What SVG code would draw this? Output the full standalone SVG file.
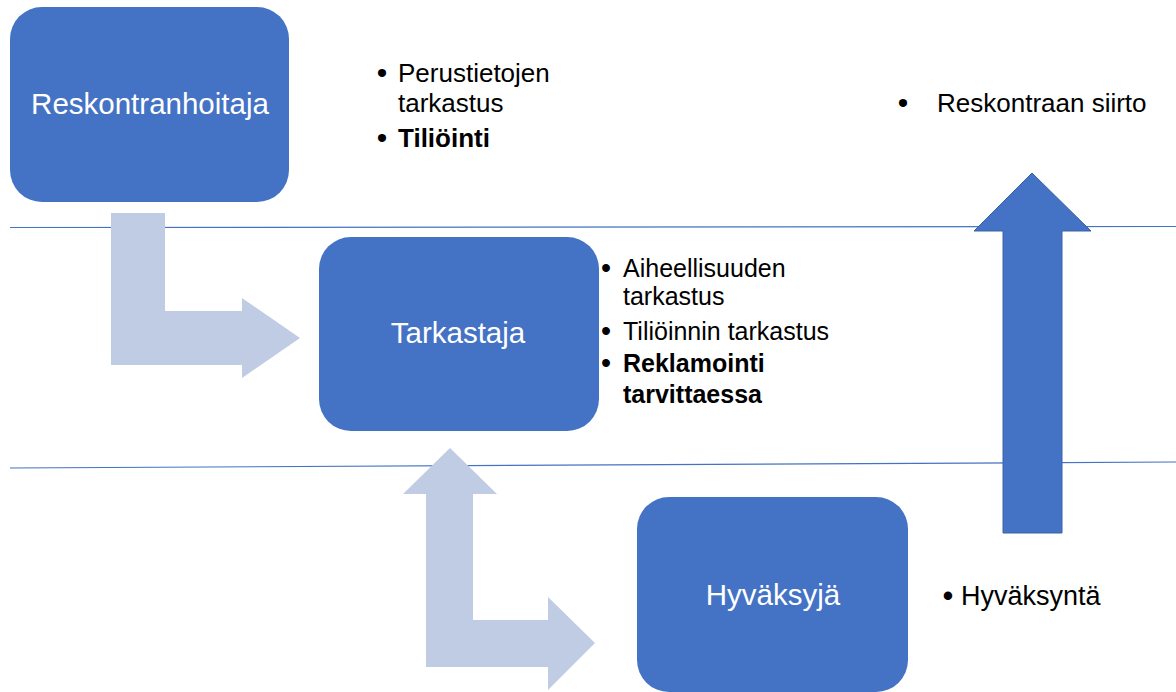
<svg xmlns="http://www.w3.org/2000/svg" width="1176" height="692" viewBox="0 0 1176 692">
<style>
.box{fill:#4472C4;}
.lbl{font-family:"Liberation Sans",Arial,sans-serif;font-size:29.5px;fill:#FFFFFF;text-anchor:middle;}
.txt{font-family:"Liberation Sans",Arial,sans-serif;fill:#000000;}
.b{font-weight:bold;}
.bul{text-anchor:middle;font-size:1.15em;}
.light{fill:#C0CBE4;}
.big{fill:#4472C4;stroke:#3A62A8;stroke-width:1;}
.sep{stroke:#4472C4;stroke-width:1.2;fill:none;}
</style>
<rect width="1176" height="692" fill="#FFFFFF"/>
<g id="separators">
<line class="sep" x1="10" y1="227.5" x2="1176" y2="226.5"/>
<line class="sep" x1="10" y1="468" x2="1176" y2="462"/>
</g>
<g id="connectors">
<polygon class="light" points="111,213 165,213 165,311 242,311 242,298 300,338 242,378 242,365 111,365"/>
<polygon class="light" points="450,448 497,494 473,494 473,620 548,620 548,597 595,643 548,690 548,667 426,667 426,494 403,494"/>
<polygon class="big" points="1032,173 1091,231 1062,231 1062,533 1003,533 1003,231 974,231"/>
</g>
<g id="node-reskontranhoitaja">
<rect class="box" x="10" y="7" width="279" height="195" rx="32" ry="32"/>
<text class="lbl" x="150" y="114">Reskontranhoitaja</text>
</g>
<g id="node-tarkastaja">
<rect class="box" x="319" y="237" width="280" height="194" rx="32" ry="32"/>
<text class="lbl" x="458" y="343">Tarkastaja</text>
</g>
<g id="node-hyvaksyja">
<rect class="box" x="637" y="497" width="271" height="195" rx="32" ry="32"/>
<text class="lbl" x="773" y="605">Hyväksyjä</text>
</g>
<g id="list-reskontranhoitaja" class="txt" font-size="26">
<text class="bul" x="382" y="83">•</text>
<text x="398" y="82">Perustietojen</text>
<text x="398" y="112">tarkastus</text>
<text class="bul" x="382" y="148">•</text>
<text class="b" x="398" y="147">Tiliöinti</text>
</g>
<g id="list-tarkastaja" class="txt" font-size="25">
<text class="bul" x="606" y="278">•</text>
<text x="623" y="277">Aiheellisuuden</text>
<text x="623" y="305">tarkastus</text>
<text class="bul" x="606" y="341">•</text>
<text x="623" y="340">Tiliöinnin tarkastus</text>
<text class="bul" x="606" y="373">•</text>
<text class="b" x="623" y="372">Reklamointi</text>
<text class="b" x="623" y="403">tarvittaessa</text>
</g>
<g id="list-siirto" class="txt" font-size="26">
<text class="bul" x="903" y="113">•</text>
<text x="937" y="112">Reskontraan siirto</text>
</g>
<g id="list-hyvaksynta" class="txt" font-size="27">
<text class="bul" x="948" y="606">•</text>
<text x="961" y="605">Hyväksyntä</text>
</g>
</svg>
